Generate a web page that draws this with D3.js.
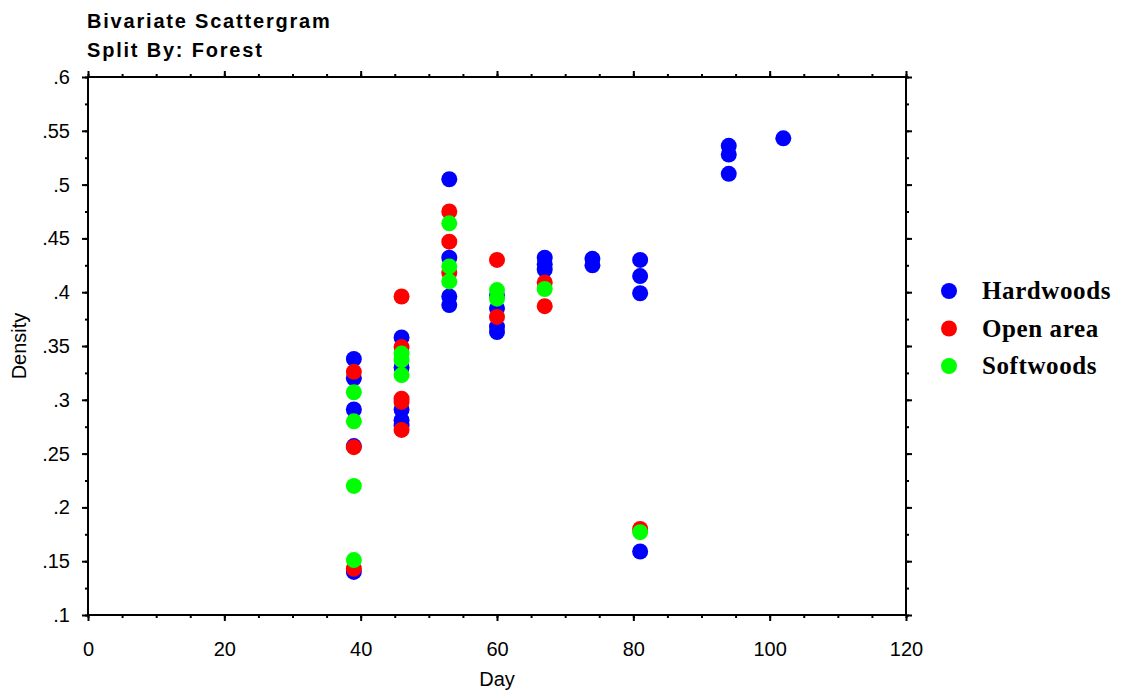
<!DOCTYPE html>
<html>
<head>
<meta charset="utf-8">
<script src="https://cdn.jsdelivr.net/npm/d3@7"></script>
<style>
  body { margin: 0; background: #fff; }
  svg { display: block; }
</style>
</head>
<body>
<svg id="chart" width="1130" height="693"></svg>
<script>
// Day values where the measurements were taken, Density per forest type
var hardwoodsDay = [39, 39, 39, 39, 39, 46, 46, 46, 46, 46, 53, 53, 53, 53, 60, 60, 60, 60, 67, 67, 67, 74, 74, 81, 81, 81, 81, 94, 94, 94, 102];
var hardwoodsDen = [.338, .320, .291, .257, .140, .358, .330, .291, .281, .276, .505, .432, .396, .388, .397, .385, .368, .363, .432, .426, .421, .431, .425, .430, .415, .399, .159, .536, .528, .510, .543];

var openDay = [39, 39, 39, 46, 46, 46, 46, 46, 53, 53, 53, 60, 60, 67, 67, 81];
var openDen = [.326, .256, .143, .396, .349, .301, .298, .272, .475, .447, .418, .430, .377, .409, .387, .180];

var softDay = [39, 39, 39, 39, 46, 46, 46, 53, 53, 53, 60, 60, 67, 81];
var softDen = [.307, .280, .220, .151, .343, .337, .323, .464, .424, .410, .402, .394, .403, .177];

var seriesNames = ["Hardwoods", "Open area", "Softwoods"];
var seriesColors = ["#0000ff", "#ff0000", "#00ff00"];

var xTicks = [0, 20, 40, 60, 80, 100, 120];
var yTicks = [.1, .15, .2, .25, .3, .35, .4, .45, .5, .55, .6];

var svg = d3.select("#chart");
var pLeft = 88, pRight = 906, pTop = 77, pBottom = 615;

var x = d3.scaleLinear().domain([0, 120]).range([pLeft, pRight]);
var y = d3.scaleLinear().domain([.1, .6]).range([pBottom, pTop]);

function fmtY(d) { return d3.format(".2~f")(d).replace(/^0/, ""); }

// minor ticks first, then major ones with labels
var xMinor = d3.range(0, 121, 5), yMinor = d3.range(.1, .6001, .025);

function drawAxis(axis, tr, showLabels) {
    var g = svg.append("g").attr("transform", tr).call(axis);
    g.select(".domain").remove();
    g.selectAll("line").attr("stroke", "#000").attr("stroke-width", 2);
    if (!showLabels) g.selectAll("text").remove();
    return g;
}

drawAxis(d3.axisBottom(x).tickValues(xMinor).tickSize(3).tickFormat(""), "translate(0," + pBottom + ")", false);
drawAxis(d3.axisTop(x).tickValues(xMinor).tickSize(3).tickFormat(""), "translate(0," + pTop + ")", false);
drawAxis(d3.axisLeft(y).tickValues(yMinor).tickSize(3).tickFormat(""), "translate(" + pLeft + ",0)", false);
drawAxis(d3.axisRight(y).tickValues(yMinor).tickSize(3).tickFormat(""), "translate(" + pRight + ",0)", false);

drawAxis(d3.axisBottom(x).tickValues(xTicks).tickSize(6).tickPadding(21), "translate(0," + pBottom + ")", true);
drawAxis(d3.axisTop(x).tickValues(xTicks).tickSize(6).tickFormat(""), "translate(0," + pTop + ")", false);
drawAxis(d3.axisLeft(y).tickValues(yTicks).tickSize(6).tickPadding(12).tickFormat(fmtY), "translate(" + pLeft + ",0)", true);
drawAxis(d3.axisRight(y).tickValues(yTicks).tickSize(6).tickFormat(""), "translate(" + pRight + ",0)", false);

svg.selectAll(".tick text").attr("font-family", "Liberation Sans, Arial, sans-serif").attr("font-size", 20).attr("fill", "#000");

// frame
svg.append("rect").attr("x", pLeft).attr("y", pTop).attr("width", pRight - pLeft).attr("height", pBottom - pTop)
    .attr("fill", "none").attr("stroke", "#000").attr("stroke-width", 2);

// points, hardwoods drawn first so the others sit on top
var series = [[hardwoodsDay, hardwoodsDen], [openDay, openDen], [softDay, softDen]];
series.forEach(function(s, i) {
    var pts = s[0].map(function(d, j) { return { day: d, den: s[1][j] }; });
    svg.append("g").selectAll("circle").data(pts).enter().append("circle")
        .attr("cx", d => x(d.day)).attr("cy", d => y(d.den)).attr("r", 8)
        .attr("fill", seriesColors[i]);
});

// titles
var title = svg.append("g").attr("font-family", "Liberation Sans, Arial, sans-serif")
    .attr("font-weight", "bold").attr("font-size", 20).attr("letter-spacing", 1.8);
title.append("text").attr("x", 87).attr("y", 28).text("Bivariate Scattergram");
title.append("text").attr("x", 87).attr("y", 57).text("Split By: Forest");

svg.append("text").attr("x", (pLeft + pRight) / 2).attr("y", 686).attr("text-anchor", "middle")
    .attr("font-family", "Liberation Sans, Arial, sans-serif").attr("font-size", 20).text("Day");
svg.append("text").attr("transform", "translate(26," + ((pTop + pBottom) / 2) + ") rotate(-90)")
    .attr("text-anchor", "middle").attr("font-family", "Liberation Sans, Arial, sans-serif")
    .attr("font-size", 20).text("Density");

// legend
var legend = svg.append("g").selectAll("g").data(seriesNames).enter().append("g")
    .attr("transform", (d, i) => "translate(949," + (291 + i * 37.5) + ")");
legend.append("circle").attr("r", 8).attr("fill", (d, i) => seriesColors[i]);
legend.append("text").attr("x", 33).attr("y", 8).attr("font-family", "Liberation Serif, Times New Roman, serif")
    .attr("font-weight", "bold").attr("font-size", 25).attr("letter-spacing", 0.6).text(d => d);
</script>
</body>
</html>
